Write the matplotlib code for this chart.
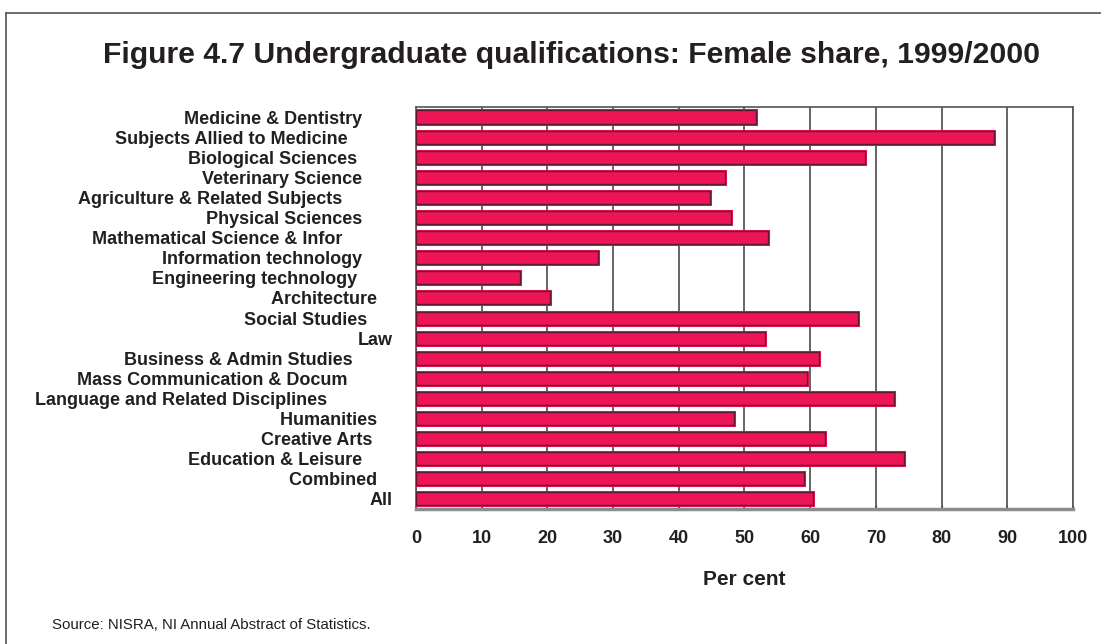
import matplotlib.pyplot as plt
from matplotlib.lines import Line2D

# subject labels keep the trailing padding they have in the source sheet
subjects = [
    "Medicine & Dentistry      ",
    "Subjects Allied to Medicine         ",
    "Biological Sciences       ",
    "Veterinary Science      ",
    "Agriculture & Related Subjects          ",
    "Physical Sciences      ",
    "Mathematical Science & Infor          ",
    "Information technology      ",
    "Engineering technology       ",
    "Architecture   ",
    "Social Studies     ",
    "Law",
    "Business & Admin Studies        ",
    "Mass Communication & Docum         ",
    "Language and Related Disciplines             ",
    "Humanities   ",
    "Creative Arts    ",
    "Education & Leisure      ",
    "Combined   ",
    "All",
]
female_share = [51.8, 88.0, 68.3, 47.1, 44.8, 48.0, 53.6, 27.7, 15.9, 20.4,
                67.3, 53.1, 61.3, 59.5, 72.8, 48.4, 62.2, 74.2, 59.1, 60.4]
xticks = [0, 10, 20, 30, 40, 50, 60, 70, 80, 90, 100]

plt.rcParams['font.family'] = ['Liberation Sans', 'DejaVu Sans']

fig = plt.figure(figsize=(11.01, 6.44), dpi=100)
ax = fig.add_axes([0.3778, 0.2096, 0.5968, 0.6243])

ypos = list(range(len(subjects)))
# crimson bars: outer crimson rim with a dark inner outline
ax.barh(ypos, female_share, height=0.65, color='#EE1556', edgecolor='#EE1556',
        linewidth=2.2, zorder=3)
ax.barh(ypos, female_share, height=0.65, color='#EE1556', edgecolor='#5C1A33',
        linewidth=1.0, zorder=4)

ax.set_xlim(0, 100)
ax.set_ylim(len(subjects) - 0.5, -0.5)
ax.set_xticks(xticks)
ax.set_yticks(ypos)
ax.set_yticklabels(subjects, fontsize=13, fontweight='bold', color='#231F20')
ax.set_xticklabels([str(t) for t in xticks], fontsize=13, fontweight='bold',
                   color='#231F20')
ax.tick_params(axis='y', length=0, pad=17)
ax.tick_params(axis='x', direction='in', length=3, pad=15, color='#444444')

ax.xaxis.grid(True, color='#3A3A3A', linewidth=1.1, zorder=1)
ax.set_axisbelow(True)

for side in ['top', 'right', 'left']:
    ax.spines[side].set_color('#555555')
    ax.spines[side].set_linewidth(1.2)
ax.spines['bottom'].set_color('#8C8C8C')
ax.spines['bottom'].set_linewidth(2.5)

ax.set_xlabel('Per cent', fontsize=15, fontweight='bold', color='#231F20',
              labelpad=17)

fig.text(0.519, 0.915, 'Figure 4.7 Undergraduate qualifications: Female share, 1999/2000',
         ha='center', va='center', fontsize=21.7, fontweight='bold', color='#231F20')
fig.text(0.047, 0.029, 'Source: NISRA, NI Annual Abstract of Statistics.',
         ha='left', va='center', fontsize=10.8, color='#231F20')

# outer frame running off the page to the right and bottom
fig.add_artist(Line2D([0.0055, 0.0055], [0.0, 0.98], transform=fig.transFigure,
                      color='#555555', linewidth=1.2))
fig.add_artist(Line2D([0.0055, 1.0], [0.98, 0.98], transform=fig.transFigure,
                      color='#555555', linewidth=1.2))

fig.savefig('out.png', dpi=100)
